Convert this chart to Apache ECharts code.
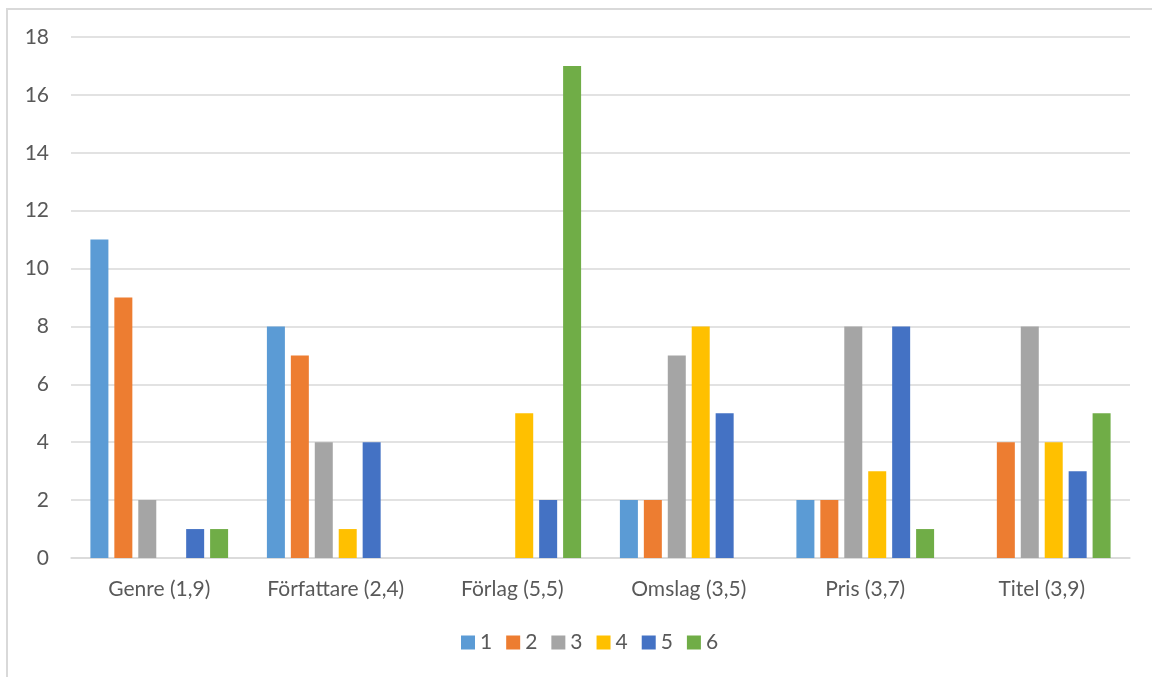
<!DOCTYPE html>
<html>
<head>
<meta charset="utf-8">
<script src="https://cdn.jsdelivr.net/npm/echarts@6/dist/echarts.min.js"></script>
<style>
  html, body { margin: 0; padding: 0; background: #fff; }
  #frame {
    position: absolute; left: 6px; top: 8px; width: 1160px; height: 690px;
    border: 2px solid #d9d9d9; box-sizing: border-box;
  }
  #main { position: absolute; left: 0; top: 0; width: 1152px; height: 677px; }
</style>
</head>
<body>
<div id="frame"></div>
<div id="main"></div>
<script>
  const categories = ['Genre (1,9)', 'Författare (2,4)', 'Förlag (5,5)', 'Omslag (3,5)', 'Pris (3,7)', 'Titel (3,9)'];
  const seriesNames = ['1', '2', '3', '4', '5', '6'];
  const s1 = [11, 8, 0, 2, 2, 0];
  const s2 = [9, 7, 0, 2, 2, 4];
  const s3 = [2, 4, 0, 7, 8, 8];
  const s4 = [0, 1, 5, 8, 3, 4];
  const s5 = [1, 4, 2, 5, 8, 3];
  const s6 = [1, 0, 17, 0, 1, 5];
  const colors = ['#5B9BD5', '#ED7D31', '#A5A5A5', '#FFC000', '#4472C4', '#70AD47'];

  const allValues = [s1, s2, s3, s4, s5, s6];
  const font = 'Lato, "Open Sans", sans-serif';

  var myChart = echarts.init(document.getElementById('main'));

  var option = {
    backgroundColor: 'transparent',
    color: colors,
    animation: false,
    grid: { left: 71, right: 22, top: 37, bottom: 119 },
    legend: {
      bottom: 19,
      left: 456,
      itemWidth: 14,
      itemHeight: 14,
      itemGap: 14,
      icon: 'rect',
      textStyle: { fontFamily: font, fontSize: 21, color: '#595959' },
      data: seriesNames
    },
    xAxis: {
      type: 'category',
      data: categories,
      axisTick: { show: false },
      axisLine: { lineStyle: { color: '#d9d9d9', width: 1.5 } },
      axisLabel: { fontFamily: font, fontSize: 21, color: '#595959', margin: 21, interval: 0 }
    },
    yAxis: {
      type: 'value',
      min: 0,
      max: 18,
      interval: 2,
      axisLine: { show: false },
      axisTick: { show: false },
      splitLine: { lineStyle: { color: '#d9d9d9', width: 1.5 } },
      axisLabel: { fontFamily: font, fontSize: 21, color: '#595959', margin: 22 }
    },
    series: seriesNames.map((name, i) => ({
      name: name,
      type: 'bar',
      data: allValues[i].map(v => v === 0 ? null : v),
      barWidth: 18,
      barGap: '33%'
    }))
  };

  option && myChart.setOption(option);
</script>
</body>
</html>
